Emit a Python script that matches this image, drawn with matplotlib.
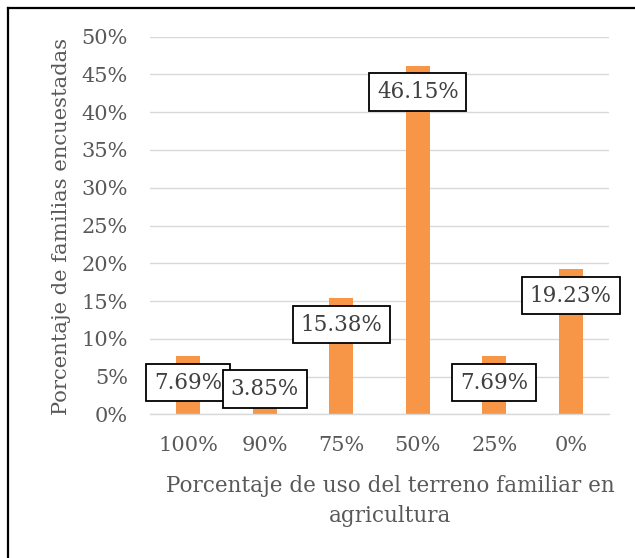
import matplotlib
matplotlib.use("Agg")
import matplotlib.pyplot as plt
from matplotlib.lines import Line2D
import numpy as np

categories = ["100%", "90%", "75%", "50%", "25%", "0%"]
values = [7.69, 3.85, 15.38, 46.15, 7.69, 19.23]
value_labels = ["7.69%", "3.85%", "15.38%", "46.15%", "7.69%", "19.23%"]
y_ticks = [0, 5, 10, 15, 20, 25, 30, 35, 40, 45, 50]
y_tick_labels = [f"{t}%" for t in y_ticks]

W, H = 635, 558
plt.rcParams['font.family'] = ['DejaVu Serif']
fig = plt.figure(figsize=(W / 100, H / 100), dpi=100)
fig.patch.set_facecolor("white")

ax = fig.add_axes([150 / W, 1 - 414.3 / H, (609 - 150) / W, (414.3 - 36.7) / H])
x = np.arange(len(categories))
ax.bar(x, values, width=0.31, color="#F79646", zorder=2)
ax.set_xlim(-0.5, len(categories) - 0.5)
ax.set_ylim(0, 50)
ax.set_yticks(y_ticks)
ax.set_yticklabels(y_tick_labels)
ax.set_xticks(x)
ax.set_xticklabels(categories)
ax.grid(axis="y", color="#D9D9D9", linewidth=1.0, zorder=0)
ax.set_axisbelow(True)
for s in ["top", "right", "left"]:
    ax.spines[s].set_visible(False)
ax.spines["bottom"].set_color("#D9D9D9")
ax.spines["bottom"].set_linewidth(1.0)
ax.tick_params(axis="both", length=0, labelsize=15, labelcolor="#595959")
ax.tick_params(axis="y", pad=16)
ax.tick_params(axis="x", pad=15.5)

vals = np.array(values)
label_y = np.maximum(vals - 3.5, 3.35)
for xi, ly, lab in zip(x, label_y, value_labels):
    ax.text(xi, ly, lab, ha="center", va="center", fontsize=15.5, color="#404040",
            zorder=5, clip_on=False,
            bbox=dict(boxstyle="square,pad=0.36", fc="white", ec="black", lw=1.3))

fig.text(390 / W, 1 - 501 / H, "Porcentaje de uso del terreno familiar en\nagricultura",
         ha="center", va="center", fontsize=15.5, color="#595959", linespacing=1.45)
fig.text(62 / W, 1 - 226 / H, "Porcentaje de familias encuestadas", rotation=90,
         ha="center", va="center", fontsize=15.2, color="#595959")

# outer frame (top and left edges visible)
fig.add_artist(Line2D([7.5 / W, 1.0], [1 - 7.5 / H, 1 - 7.5 / H], color="black", lw=1.6,
                      transform=fig.transFigure))
fig.add_artist(Line2D([7.5 / W, 7.5 / W], [0, 1 - 7.5 / H], color="black", lw=1.6,
                      transform=fig.transFigure))

fig.savefig("out.png", dpi=100, facecolor="white")
